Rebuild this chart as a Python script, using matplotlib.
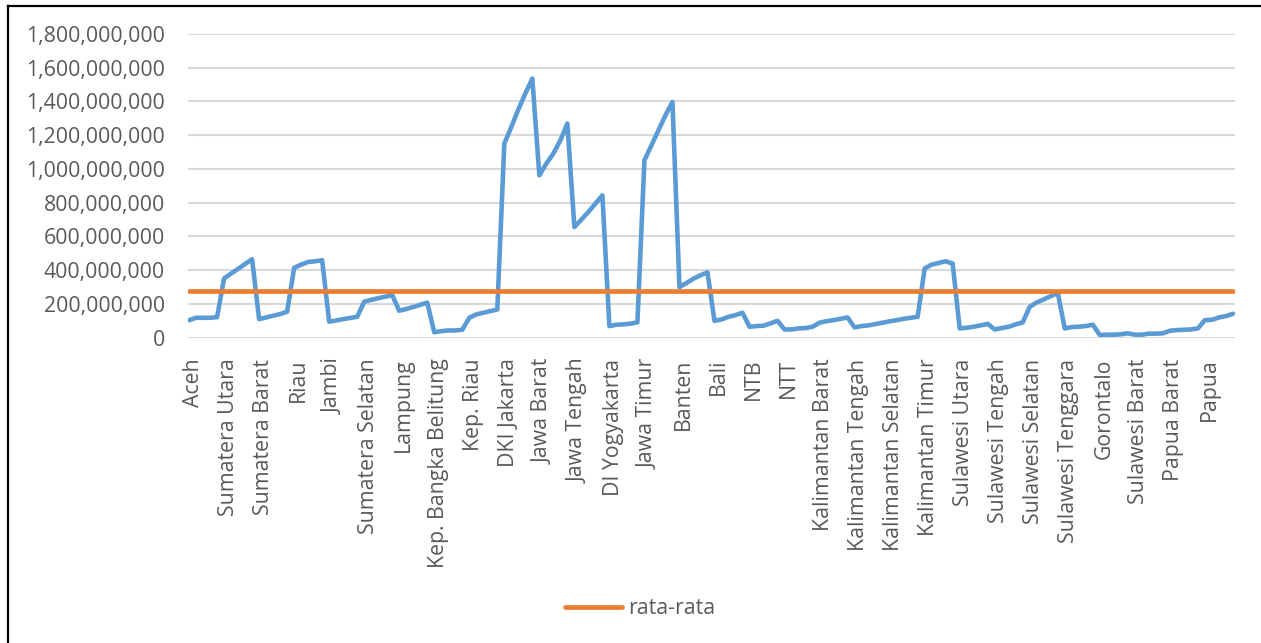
import matplotlib
matplotlib.use("Agg")
import matplotlib.pyplot as plt
import matplotlib.transforms as mtransforms
from matplotlib.lines import Line2D
from matplotlib.ticker import FuncFormatter, MultipleLocator
import numpy as np

plt.rcParams["font.family"] = ["Open Sans", "DejaVu Sans"]

# Provinces in axis order (five yearly observations each)
provinsi = [
    "Aceh", "Sumatera Utara", "Sumatera Barat", "Riau", "Jambi",
    "Sumatera Selatan", "Lampung", "Kep. Bangka Belitung", "Kep. Riau",
    "DKI Jakarta", "Jawa Barat", "Jawa Tengah", "DI Yogyakarta", "Jawa Timur",
    "Banten", "Bali", "NTB", "NTT", "Kalimantan Barat", "Kalimantan Tengah",
    "Kalimantan Selatan", "Kalimantan Timur", "Sulawesi Utara",
    "Sulawesi Tengah", "Sulawesi Selatan", "Sulawesi Tenggara", "Gorontalo",
    "Sulawesi Barat", "Papua Barat", "Papua",
]
tahun_per_provinsi = 5

# Values in millions, five per province, in the same order as above
nilai_juta = [
    104, 118, 118, 118, 122,        # Aceh
    351, 380, 408, 437, 465,        # Sumatera Utara
    110, 120, 130, 140, 154,        # Sumatera Barat
    414, 433, 449, 453, 459,        # Riau
    95, 102, 110, 117, 124,         # Jambi
    213, 224, 234, 243, 252,        # Sumatera Selatan
    160, 170, 182, 195, 208,        # Lampung
    32, 39, 43, 43, 47,             # Kep. Bangka Belitung
    118, 138, 148, 158, 167,        # Kep. Riau
    1150, 1249, 1352, 1447, 1536,   # DKI Jakarta
    962, 1032, 1091, 1170, 1269,    # Jawa Barat
    656, 700, 745, 794, 844,        # Jawa Tengah
    69, 77, 79, 83, 91,             # DI Yogyakarta
    1051, 1140, 1229, 1318, 1397,   # Jawa Timur
    300, 324, 350, 370, 387,        # Banten
    100, 108, 124, 134, 148,        # Bali
    65, 69, 71, 85, 100,            # NTB
    49, 49, 55, 57, 65,             # NTT
    89, 98, 104, 112, 120,          # Kalimantan Barat
    61, 69, 73, 81, 89,             # Kalimantan Tengah
    97, 104, 112, 118, 124,         # Kalimantan Selatan
    410, 433, 443, 453, 439,        # Kalimantan Timur
    55, 59, 65, 73, 82,             # Sulawesi Utara
    49, 57, 65, 79, 91,             # Sulawesi Tengah
    183, 209, 227, 246, 266,        # Sulawesi Selatan
    55, 63, 65, 69, 77,             # Sulawesi Tenggara
    16, 18, 18, 20, 26,             # Gorontalo
    18, 18, 24, 24, 26,             # Sulawesi Barat
    41, 45, 47, 49, 55,             # Papua Barat
    104, 106, 120, 128, 142,        # Papua
]

nilai = np.array(nilai_juta, dtype=float) * 1e6
rata_rata = np.full_like(nilai, nilai.mean())
x = np.arange(len(nilai))

BLUE = "#5b9bd5"
ORANGE = "#ed7d31"
TEXT = "#595959"
GRID = "#d9d9d9"

W, H = 1261, 643
fig = plt.figure(figsize=(W / 100, H / 100), dpi=100)
ax = fig.add_axes([188 / W, 1 - 337.7 / H, (1235 - 188) / W, (337.7 - 34) / H])

ax.plot(x, nilai, color=BLUE, lw=3.3, solid_joinstyle="round",
        solid_capstyle="round", zorder=3)
ax.plot(x, rata_rata, color=ORANGE, lw=3.4, solid_capstyle="round",
        label="rata-rata", zorder=4)

ax.set_ylim(0, 1.8e9)
ax.set_xlim(-0.15, len(nilai) - 1 + 0.3)
ax.yaxis.set_major_locator(MultipleLocator(2e8))
ax.yaxis.set_major_formatter(FuncFormatter(lambda v, p: f"{v:,.0f}"))
ax.grid(axis="y", color=GRID, lw=1.5, zorder=0)
ax.set_axisbelow(True)
for s in ax.spines.values():
    s.set_visible(False)

ax.set_xticks(x[::tahun_per_provinsi])
ax.set_xticklabels(provinsi, rotation=90, va="top", ha="center")
ax.tick_params(axis="both", length=0, labelsize=15.3, labelcolor=TEXT)
ax.tick_params(axis="y", pad=16.5)
ax.tick_params(axis="x", pad=15)

# nudge the rotated category labels a few pixels to the right
shift = mtransforms.ScaledTranslation(4 / 100, 0, fig.dpi_scale_trans)
for lbl in ax.get_xticklabels():
    lbl.set_transform(lbl.get_transform() + shift)

fig.legend(loc="center", bbox_to_anchor=(640 / W, 1 - 609 / H), frameon=False,
           fontsize=15.3, labelcolor=TEXT, handlelength=2.7, handletextpad=0.3)

# Chart frame: top and left edges
fig.add_artist(Line2D([8 / W, 1], [1 - 5.5 / H, 1 - 5.5 / H],
                      transform=fig.transFigure, color="black", lw=1.6))
fig.add_artist(Line2D([8 / W, 8 / W], [0, 1 - 5.5 / H],
                      transform=fig.transFigure, color="black", lw=1.6))

fig.savefig("out.png", dpi=100, facecolor="white")
